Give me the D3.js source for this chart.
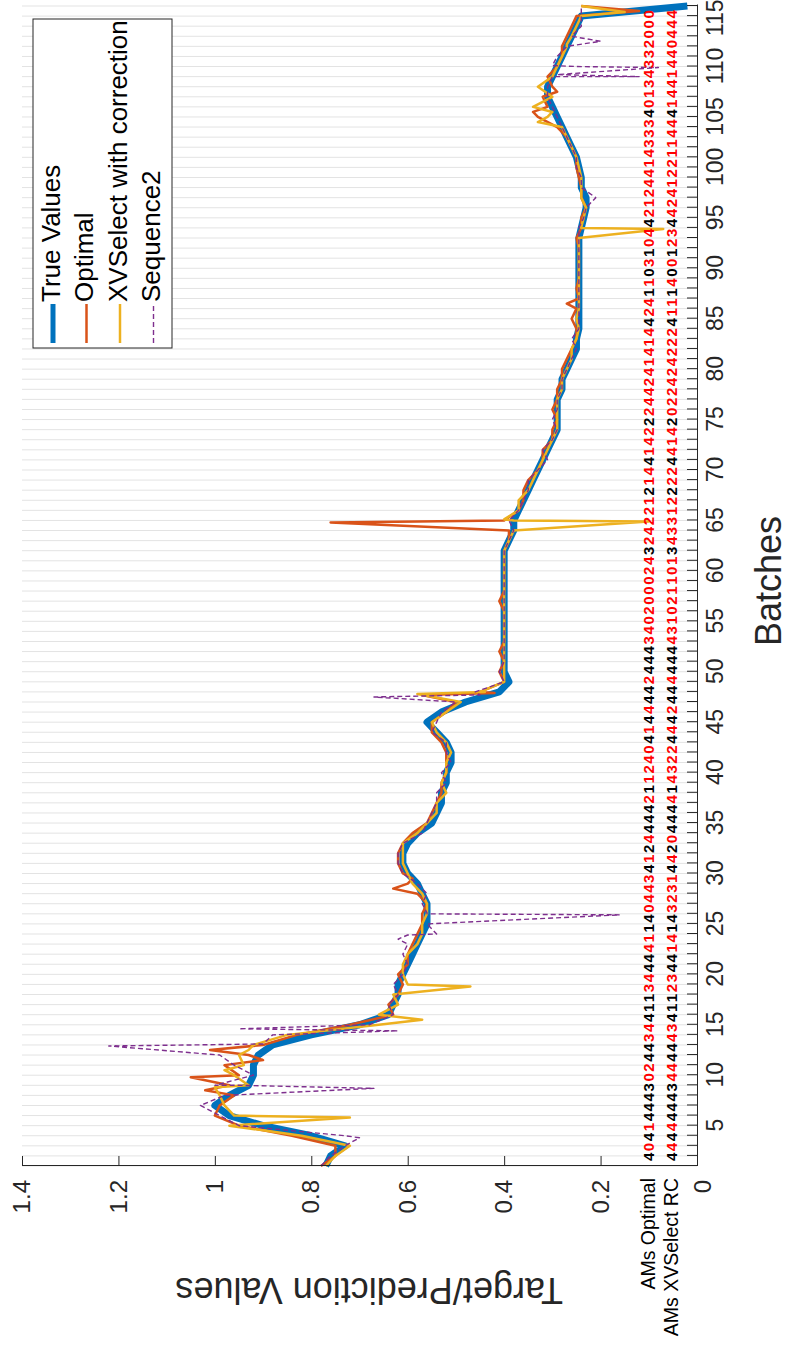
<!DOCTYPE html>
<html>
<head>
<meta charset="utf-8">
<script src="https://cdn.jsdelivr.net/npm/d3@7.9.0/dist/d3.min.js"></script>
<style>
  body { margin: 0; background: #fff; }
  text { font-family: "Liberation Sans", Arial, sans-serif; }
</style>
</head>
<body>
<svg id="chart" width="789" height="1346"></svg>
<script>
// true values, one per batch (1..116)
const trueVals = [.77,.76,.73,.80,.90,.97,1.0,.97,.93,.92, .92,.91,.88,.80,.70,.64,.63,.62,.62,.61,
  .60,.59,.58,.57,.56,.56,.56,.57,.58,.60, .61,.61,.60,.58,.55,.54,.53,.53,.52,.52,
  .51,.51,.52,.54,.56,.53,.48,.41,.39,.40, .40,.40,.40,.40,.40,.40,.40,.40,.40,.40,
  .40,.40,.39,.38,.38,.37,.36,.35,.34,.33, .32,.31,.30,.29,.29,.29,.29,.28,.28,.27,
  .26,.25,.25,.245,.245,.245,.245,.245,.245,.245, .245,.245,.245,.24,.235,.23,.23,.24,.24,.245,
  .25,.26,.27,.28,.29,.30,.31,.31,.30,.29, .28,.27,.26,.25,.24,.02];

const optimalVals = [.78,.75,.75,.84,.95,1.0,.99,.96,.97,.95, .98,.93,.9,.83,.72,.63,.64,.62,.61,.62,
  .60,.60,.59,.58,.57,.57,.56,.58,.6,.61, .62,.62,.61,.59,.56,.55,.54,.53,.53,.52,
  .52,.52,.53,.55,.55,.52,.5,.45,.4,.41, .40,.41,.40,.40,.40,.40,.41,.40,.40,.40,
  .40,.40,.39,.39,.40,.37,.36,.36,.35,.33, .32,.32,.30,.30,.29,.30,.29,.29,.28,.28,
  .27,.26,.25,.25,.26,.25,.245,.25,.245,.245, .245,.245,.25,.24,.24,.23,.24,.24,.245,.25,
  .25,.26,.27,.29,.33,.31,.32,.30,.31,.29, .28,.28,.27,.26,.25,.24];
const optimalSpikes = [[8.5,1.02],[9.8,1.05],[11.5,0.9],[12.5,1.01],[28.5,0.63],[29.5,0.59],[47.7,0.57],[47.9,0.42],
  [64.8,0.76],[65.0,0.40],[86.5,0.27],[105.5,0.34],[107.5,0.29],[115.5,0.12]];

const xvVals = [.77,.75,.72,.82,.97,.96,.98,.99,.93,.96, .94,.95,.92,.85,.66,.66,.62,.63,.60,.61,
  .61,.60,.58,.57,.57,.56,.56,.57,.59,.60, .61,.61,.61,.58,.56,.54,.54,.52,.53,.52,
  .52,.51,.52,.54,.55,.52,.49,.44,.40,.40, .40,.40,.40,.40,.40,.40,.40,.40,.40,.40,
  .40,.40,.39,.38,.38,.37,.37,.35,.34,.33, .32,.31,.30,.29,.29,.29,.29,.28,.28,.27,
  .26,.26,.25,.245,.25,.245,.245,.245,.245,.245, .245,.245,.245,.24,.235,.23,.24,.24,.24,.245,
  .25,.26,.27,.28,.31,.34,.30,.33,.30,.29, .28,.27,.26,.25,.24,.24];
const xvSpikes = [[5.8,0.72],[8.8,1.0],[10.5,0.98],[12.5,0.93],[15.5,0.57],[18.8,0.47],[19.0,0.6],[47.8,0.58],[48.0,0.45],
  [64.9,0.10],[65.1,0.4],[93.9,0.07],[94.1,0.24],[104.5,0.33],[105.5,0.30],[112.2,0.27],[115.4,0.15]];

const seqVals = [.78,.76,.73,.73,.95,.99,1.03,.98,.95,.92, .96,.99,1.05,.88,.68,.63,.64,.62,.63,.61,
  .60,.61,.60,.54,.56,.56,.57,.56,.58,.61, .62,.62,.61,.57,.56,.55,.54,.54,.52,.53,
  .51,.52,.52,.55,.54,.53,.50,.46,.40,.41, .40,.40,.40,.40,.40,.40,.40,.40,.40,.40,
  .40,.40,.39,.38,.39,.37,.36,.35,.35,.33, .31,.32,.30,.29,.30,.29,.29,.28,.28,.27,
  .26,.25,.26,.245,.245,.245,.245,.245,.245,.245, .245,.245,.245,.245,.235,.23,.21,.24,.24,.25,
  .25,.26,.27,.28,.29,.30,.31,.31,.30,.25, .29,.27,.26,.24,.24,.24];
const seqSpikes = [[3.8,0.70],[8.7,0.67],[9.0,1.0],[12.9,1.22],[13.1,0.9],[14.4,0.62],[14.6,0.95],
  [23.5,0.62],[23.9,0.60],[25.9,0.16],[26.1,0.56],[47.5,0.67],[47.7,0.45],
  [109.0,0.12],[109.2,0.29],[109.9,0.08],[110.1,0.30],[112.5,0.20]];

const amsOptimal = "40414443024434411344441140443412444421124041444424443402000243242212144142224424141442411031044212441433340134332000";
const amsXV      = "44444443444443411234414143231442044441432244424444444310211013433122224414202242422241114001234424122114441441440444";

const valueTicks = [0, 0.2, 0.4, 0.6, 0.8, 1, 1.2, 1.4];
const batchTickLabels = d3.range(5, 116, 5);

// chart is drawn in normal orientation, then turned a quarter turn
const W = 1161, H = 675;
const svg = d3.select('#chart');
const g = svg.append('g').attr('transform', 'translate(22,1166) rotate(-90)');

const x = d3.scaleLinear().domain([1, 116.1]).range([0, W]);
const y = d3.scaleLinear().domain([0, 1.4]).range([H, 0]);

// batch grid
g.append('g').selectAll('line').data(d3.range(1, 117)).join('line')
  .attr('x1', d => x(d)).attr('x2', d => x(d))
  .attr('y1', 0).attr('y2', H)
  .attr('stroke', '#e3e3e3').attr('stroke-width', 1);

function toPoints(vals, spikes) {
  const pts = vals.map((v, i) => [i + 1, v]).concat(spikes || []);
  return pts.sort((a, b) => a[0] - b[0]);
}

const line = d3.line().x(d => x(d[0])).y(d => y(d[1]));

const series = [
  { name: 'True Values', pts: toPoints(trueVals), color: '#0072BD', width: 7, dash: null },
  { name: 'Optimal', pts: toPoints(optimalVals, optimalSpikes), color: '#D95319', width: 2.5, dash: null },
  { name: 'XVSelect with correction', pts: toPoints(xvVals, xvSpikes), color: '#EDB120', width: 2.5, dash: null },
  { name: 'Sequence2', pts: toPoints(seqVals, seqSpikes), color: '#7E2F8E', width: 1.4, dash: '5,3' }
];

series.forEach(s => {
  g.append('path').datum(s.pts)
    .attr('d', line)
    .attr('fill', 'none')
    .attr('stroke', s.color)
    .attr('stroke-width', s.width)
    .attr('stroke-dasharray', s.dash)
    .attr('stroke-linejoin', 'round');
});

// axes (ticks inside, MATLAB style)
const xAxis = d3.axisBottom(x).tickValues(d3.range(1, 117)).tickSizeInner(-10).tickSizeOuter(0)
  .tickFormat(d => batchTickLabels.includes(d) ? d : '');
const xg = g.append('g').attr('transform', `translate(0,${H})`).call(xAxis);
xg.selectAll('text').attr('font-size', 23).attr('fill', '#262626').attr('dy', '1.0em');
xg.selectAll('.tick').filter(d => d === 115).select('text').attr('text-anchor', 'end').attr('dx', '0.7em');
xg.selectAll('line, path').attr('stroke', '#262626');

const yAxis = d3.axisLeft(y).tickValues(valueTicks).tickSizeInner(-10).tickSizeOuter(0)
  .tickFormat(d => d === 0 ? '' : d3.format('~g')(d));
const yg = g.append('g').call(yAxis);
yg.selectAll('text').attr('font-size', 24).attr('fill', '#262626').attr('x', -14);
yg.selectAll('line, path').attr('stroke', '#262626');

// zero label sits beside the AM rows
g.append('text').attr('x', -14).attr('y', y(0) + 8).attr('text-anchor', 'end')
  .attr('dominant-baseline', 'middle').attr('font-size', 24).attr('fill', '#262626').text('0');

// AM rows
const amRows = [
  { label: 'AMs Optimal', str: amsOptimal, other: amsXV, v: 0.097 },
  { label: 'AMs XVSelect RC', str: amsXV, other: amsOptimal, v: 0.05 }
];
amRows.forEach(r => {
  g.append('g').selectAll('text').data(r.str.split('')).join('text')
    .attr('x', (d, i) => x(1.9 + i * 0.985))
    .attr('y', y(r.v))
    .attr('text-anchor', 'middle').attr('dominant-baseline', 'middle')
    .attr('font-size', 15).attr('font-weight', 'bold')
    .attr('fill', (d, i) => d === r.other[i] ? '#000' : '#ff0000')
    .text(d => d);
  g.append('text').attr('x', -12).attr('y', y(r.v))
    .attr('text-anchor', 'end').attr('dominant-baseline', 'middle')
    .attr('font-size', 19.5).attr('fill', '#000').text(r.label);
});

// axis titles
g.append('text').attr('x', x(59)).attr('y', H + 84).attr('text-anchor', 'middle')
  .attr('font-size', 36).attr('fill', '#262626').text('Batches');
g.append('text').attr('transform', `translate(-112,${y(0.68)}) rotate(-90)`)
  .attr('text-anchor', 'middle').attr('font-size', 36).attr('fill', '#262626')
  .text('Target/Prediction Values');

// legend
const lg = g.append('g').attr('transform', `translate(${W - 343},11)`);
lg.append('rect').attr('width', 329).attr('height', 139)
  .attr('fill', '#fff').attr('stroke', '#262626').attr('stroke-width', 1);
series.forEach((s, i) => {
  const ly = 20 + i * 33.5;
  lg.append('line').attr('x1', 5).attr('x2', 44).attr('y1', ly).attr('y2', ly)
    .attr('stroke', s.color).attr('stroke-width', s.width === 7 ? 5 : s.width)
    .attr('stroke-dasharray', s.dash);
  lg.append('text').attr('x', 46).attr('y', ly).attr('dominant-baseline', 'middle')
    .attr('font-size', 26).attr('fill', '#000').text(s.name);
});
</script>
</body>
</html>
